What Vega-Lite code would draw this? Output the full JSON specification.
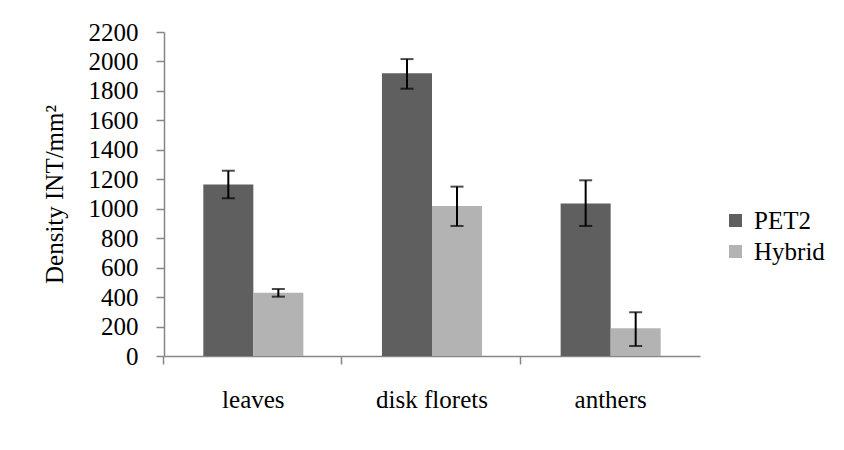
{
  "$schema": "https://vega.github.io/schema/vega-lite/v6.json",
  "width": 536,
  "height": 324,
  "autosize": "none",
  "padding": {"left": 164, "top": 32, "right": 144, "bottom": 94},
  "background": "white",
  "title": {"text": "(a)", "fontSize": 22, "font": "Liberation Serif", "fontWeight": "normal", "offset": 28, "color": "#000000"},
  "config": {
    "view": {"stroke": null},
    "font": "Liberation Serif",
    "axis": {"labelFont": "Liberation Serif", "titleFont": "Liberation Serif"},
    "axisY": {
      "title": "Density INT/mm²", "titleFontSize": 25, "titleFontWeight": "normal",
      "titleColor": "#000000", "titleX": -102, "titleBaseline": "alphabetic",
      "values": [0, 200, 400, 600, 800, 1000, 1200, 1400, 1600, 1800, 2000, 2200],
      "format": "d", "labelOverlap": false,
      "grid": false, "domainColor": "#868686", "domainWidth": 1.5, "tickColor": "#868686", "tickWidth": 1.5,
      "tickSize": 8, "labelPadding": 18, "labelFontSize": 25, "labelColor": "#000000"
    },
    "legend": {"labelFont": "Liberation Serif"}
  },
  "data": {
    "values": [
      {"category": "leaves", "series": "PET2", "value": 1165, "lo": 1071, "hi": 1258},
      {"category": "leaves", "series": "Hybrid", "value": 430, "lo": 403, "hi": 455},
      {"category": "disk florets", "series": "PET2", "value": 1920, "lo": 1815, "hi": 2016},
      {"category": "disk florets", "series": "Hybrid", "value": 1018, "lo": 883, "hi": 1150},
      {"category": "anthers", "series": "PET2", "value": 1035, "lo": 883, "hi": 1193},
      {"category": "anthers", "series": "Hybrid", "value": 188, "lo": 68, "hi": 297}
    ]
  },
  "encoding": {
    "x": {
      "field": "category", "type": "nominal",
      "sort": ["leaves", "disk florets", "anthers"],
      "scale": {"paddingInner": 0.44, "paddingOuter": 0.22},
      "axis": {
        "title": null, "labelAngle": 0, "bandPosition": -0.4,
        "domainColor": "#868686", "domainWidth": 1.5, "tickColor": "#868686", "tickWidth": 1.5,
        "tickSize": 8, "labelPadding": 23, "labelFontSize": 25, "labelFont": "Liberation Serif",
        "labelColor": "#000000"
      }
    },
    "xOffset": {"field": "series", "type": "nominal", "sort": ["PET2", "Hybrid"], "scale": {"paddingInner": 0}}
  },
  "layer": [
    {
      "mark": {"type": "bar"},
      "encoding": {
        "y": {
          "field": "value", "type": "quantitative",
          "scale": {"domain": [0, 2200], "nice": false},
          "axis": {
            "title": "Density INT/mm²",
            "values": [0, 200, 400, 600, 800, 1000, 1200, 1400, 1600, 1800, 2000, 2200]
          }
        },
        "color": {
          "field": "series", "type": "nominal",
          "scale": {"domain": ["PET2", "Hybrid"], "range": ["#5f5f5f", "#b3b3b3"]},
          "legend": {
            "title": null, "orient": "none", "legendX": 559, "legendY": 176,
            "symbolType": "square", "symbolSize": 170, "symbolStrokeWidth": 0,
            "labelFontSize": 25, "labelFont": "Liberation Serif", "labelColor": "#000000",
            "rowPadding": 5, "labelOffset": 6
          }
        }
      }
    },
    {
      "mark": {"type": "rule", "color": "#000000", "strokeWidth": 2},
      "encoding": {
        "y": {"field": "lo", "type": "quantitative", "axis": {"title": "Density INT/mm²", "values": [0, 200, 400, 600, 800, 1000, 1200, 1400, 1600, 1800, 2000, 2200]}},
        "y2": {"field": "hi"}
      }
    },
    {
      "mark": {"type": "tick", "color": "#000000", "thickness": 2, "size": 13},
      "encoding": {"y": {"field": "lo", "type": "quantitative", "axis": {"title": "Density INT/mm²", "values": [0, 200, 400, 600, 800, 1000, 1200, 1400, 1600, 1800, 2000, 2200]}}}
    },
    {
      "mark": {"type": "tick", "color": "#000000", "thickness": 2, "size": 13},
      "encoding": {"y": {"field": "hi", "type": "quantitative", "axis": {"title": "Density INT/mm²", "values": [0, 200, 400, 600, 800, 1000, 1200, 1400, 1600, 1800, 2000, 2200]}}}
    }
  ]
}
